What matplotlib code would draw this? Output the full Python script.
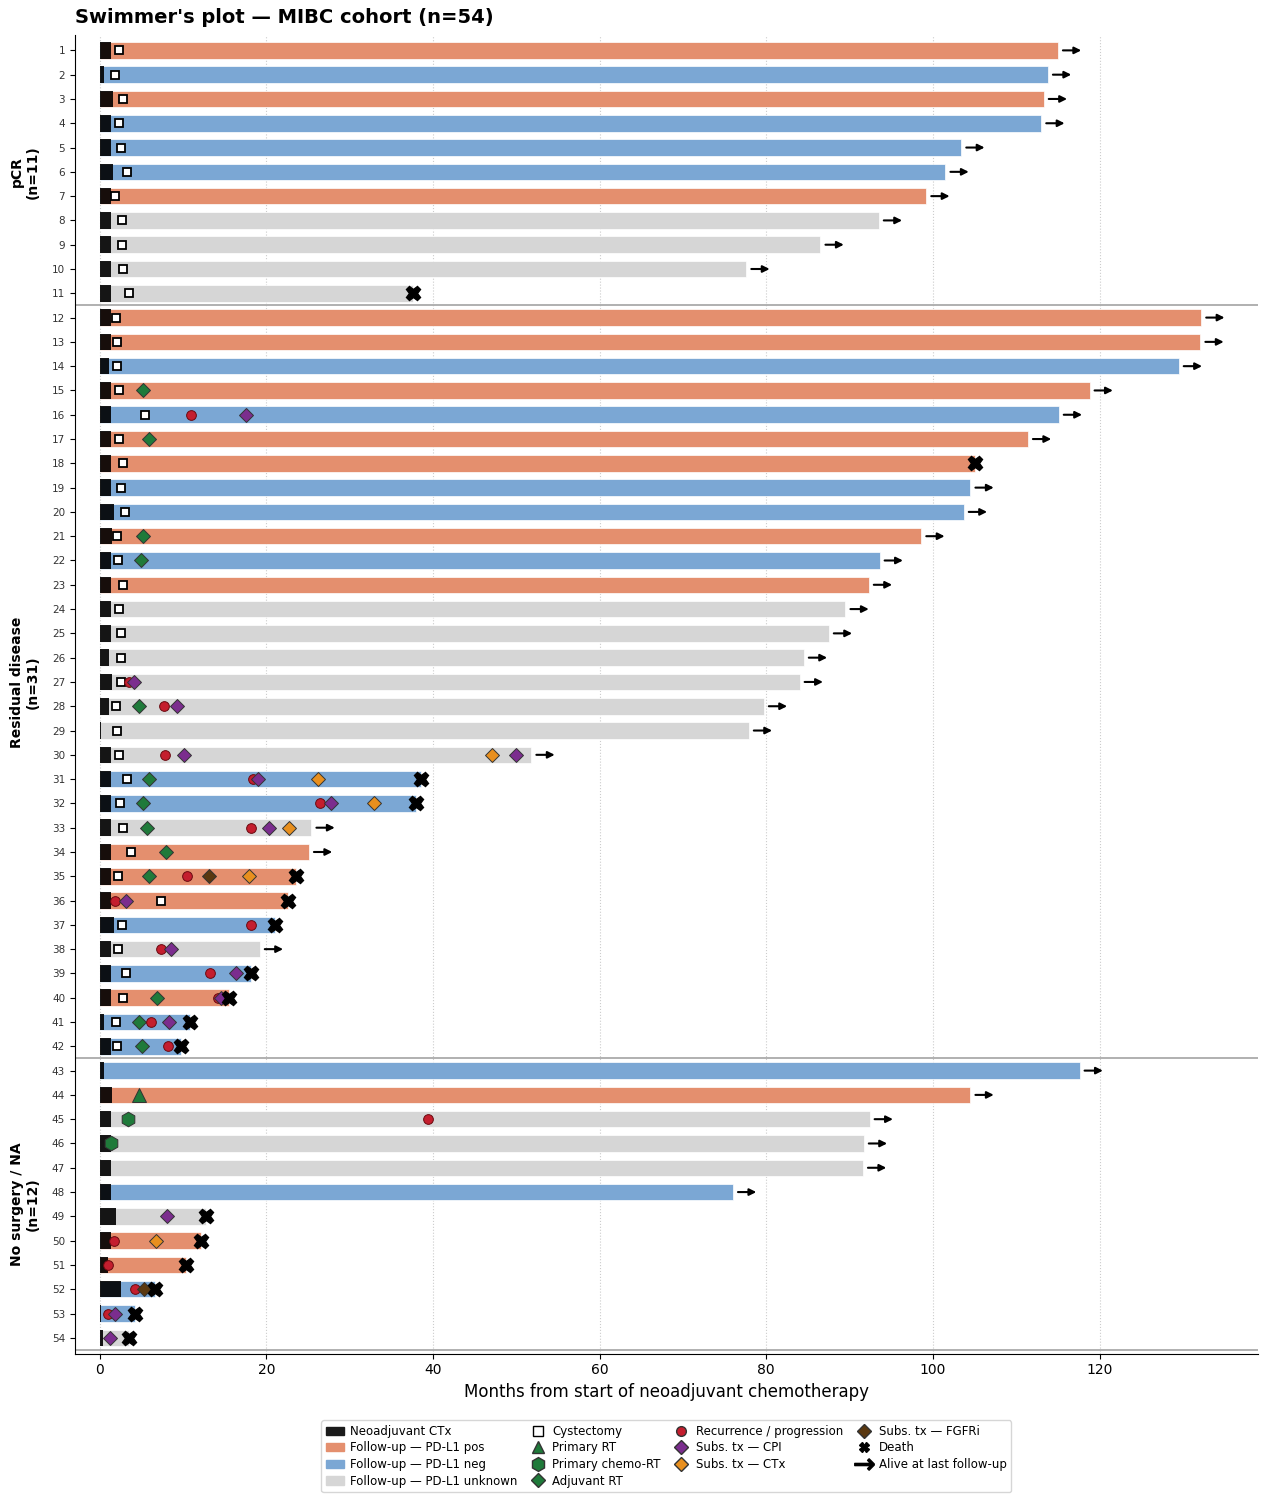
import matplotlib
matplotlib.use("Agg")
import matplotlib.pyplot as plt
from matplotlib.patches import Patch
from matplotlib.lines import Line2D
import matplotlib.transforms as mtransforms

# per-patient data (patients 1..54, top to bottom)
neo_end = [1.4, 0.5, 1.6, 1.3, 1.4, 1.6, 1.3, 1.4, 1.4, 1.4, 1.4,
           1.35, 1.35, 1.05, 1.35, 1.4, 1.35, 1.4, 1.4, 1.75, 1.45, 1.4, 1.4, 1.4, 1.4, 1.05,
           1.45, 1.05, 0.1, 1.3, 1.4, 1.4, 1.4, 1.4, 1.4, 1.35, 1.65, 1.35, 1.35, 1.35, 0.45, 1.35,
           0.45, 1.5, 1.35, 1.35, 1.35, 1.3, 2.0, 1.3, 0.95, 2.5, 0.1, 0.35]
fu_end = [115.0, 113.8, 113.3, 113.0, 103.4, 101.5, 99.2, 93.5, 86.5, 77.6, 37.6,
          132.2, 132.1, 129.5, 118.8, 115.1, 111.4, 105.0, 104.5, 103.7, 98.6, 93.6, 92.3,
          89.5, 87.5, 84.5, 84.0, 79.7, 77.9, 51.8, 38.5, 38.0, 25.4, 25.1, 23.6, 22.6, 21.0,
          19.2, 18.1, 15.5, 10.8, 9.8,
          117.6, 104.5, 92.4, 91.7, 91.6, 76.0, 12.8, 12.2, 10.4, 6.6, 4.2, 3.5]
pdl1 = ['pos', 'neg', 'pos', 'neg', 'neg', 'neg', 'pos', 'unk', 'unk', 'unk', 'unk',
        'pos', 'pos', 'neg', 'pos', 'neg', 'pos', 'pos', 'neg', 'neg', 'pos', 'neg', 'pos',
        'unk', 'unk', 'unk', 'unk', 'unk', 'unk', 'unk', 'neg', 'neg', 'unk', 'pos', 'pos',
        'pos', 'neg', 'unk', 'neg', 'pos', 'neg', 'neg',
        'neg', 'pos', 'unk', 'unk', 'unk', 'neg', 'unk', 'pos', 'pos', 'neg', 'neg', 'unk']
cyst_t = [2.35, 1.85, 2.8, 2.3, 2.6, 3.25, 1.85, 2.65, 2.65, 2.8, 3.5,
          1.9, 2.1, 2.1, 2.3, 5.45, 2.3, 2.8, 2.55, 3.0, 2.1, 2.15, 2.75, 2.3, 2.5, 2.55,
          2.55, 1.9, 2.1, 2.3, 3.25, 2.4, 2.8, 3.8, 2.2, 7.35, 2.65, 2.2, 3.1, 2.8, 1.9, 2.1]
dead = [11, 18, 31, 32, 35, 36, 37, 39, 40, 41, 42, 49, 50, 51, 52, 53, 54]

# events: (patient, month)
adj_rt = [(15, 5.15), (17, 5.85), (21, 5.15), (22, 5.0), (28, 4.65), (31, 5.85), (32, 5.2),
          (33, 5.7), (34, 7.9), (35, 5.9), (40, 6.9), (41, 4.7), (42, 5.1)]
prim_rt = [(44, 4.7)]
chemo_rt = [(45, 3.35), (46, 1.4)]
recur = [(16, 10.9), (27, 3.5), (28, 7.7), (30, 7.85), (31, 18.4), (32, 26.4), (33, 18.2),
         (35, 10.45), (36, 1.85), (37, 18.1), (38, 7.3), (39, 13.25), (40, 14.2), (41, 6.2),
         (42, 8.2), (45, 39.4), (50, 1.7), (51, 1.0), (52, 4.2), (53, 0.95)]
cpi = [(16, 17.6), (27, 4.1), (28, 9.25), (30, 10.1), (30, 50.0), (31, 19.0), (32, 27.7),
       (33, 20.3), (36, 3.2), (38, 8.5), (39, 16.4), (40, 14.6), (41, 8.35), (49, 8.1),
       (53, 1.85), (54, 1.2)]
ctx = [(30, 47.05), (31, 26.2), (32, 32.9), (33, 22.7), (35, 17.9), (50, 6.7)]
fgfr = [(35, 13.1), (52, 5.3)]

groups = ['pCR\n(n=11)', 'Residual disease\n(n=31)', 'No surgery / NA\n(n=12)']
group_bounds = [(1, 11), (12, 42), (43, 54)]

col_fu = {'pos': '#E48F6E', 'neg': '#7BA7D4', 'unk': '#D6D6D6'}
c_rec, c_cpi, c_ctx, c_fgf, c_grn = '#C41E2E', '#7B2D8E', '#E88F1E', '#5A3810', '#1F7A3A'

fig = plt.figure(figsize=(12.68, 15.04), dpi=100)
ax = fig.add_axes([0.059, 0.100, 0.933, 0.877])

n = len(fu_end)
rows = list(range(1, n + 1))
bh = 0.68
ax.barh(rows, fu_end, height=bh, color=[col_fu[p] for p in pdl1],
        edgecolor='white', linewidth=0.5, zorder=2)
ax.barh(rows, neo_end, height=bh, color='black', alpha=0.9, linewidth=0, zorder=3)

ax.plot(cyst_t, rows[:len(cyst_t)], 's', ms=5.8, mfc='white', mec='black', mew=1.3,
        ls='none', zorder=5)


def events(lst, marker, color, ms, mec='#333333'):
    ax.plot([t for _, t in lst], [p for p, _ in lst], marker, ms=ms, mfc=color, mec=mec,
            mew=0.7, ls='none', zorder=6)


events(adj_rt, 'D', c_grn, 7.2)
events(prim_rt, '^', c_grn, 9.5)
events(chemo_rt, 'h', c_grn, 10.5)
events(recur, 'o', c_rec, 7, mec='#6a0a10')
events(cpi, 'D', c_cpi, 7.2)
events(ctx, 'D', c_ctx, 7.2)
events(fgfr, 'D', c_fgf, 7.2)

ax.plot([fu_end[p - 1] for p in dead], dead, 'X', ms=10.5, color='black', mec='black',
        ls='none', zorder=7)
for p in rows:
    if p not in dead:
        e = fu_end[p - 1]
        ax.annotate('', xy=(e + 2.8, p), xytext=(e + 0.6, p),
                    arrowprops=dict(arrowstyle='-|>', color='black', lw=1.5,
                                    mutation_scale=10, shrinkA=0, shrinkB=0), zorder=7)

for b in [11.5, 42.5, 54.5]:
    ax.axhline(b, color='#aaaaaa', lw=1.3, zorder=1)

ax.set_ylim(54.65, 0.35)
ax.set_xlim(-3, 139)
ax.set_yticks(rows)
ax.set_yticklabels([str(r) for r in rows], fontsize=7.5, color='#333333')
ax.set_xticks(range(0, 121, 20))
ax.tick_params(axis='x', labelsize=10)
ax.grid(axis='x', ls=':', color='#cccccc', lw=0.8, zorder=0)
ax.set_axisbelow(True)
ax.spines['top'].set_visible(False)
ax.spines['right'].set_visible(False)
ax.set_xlabel('Months from start of neoadjuvant chemotherapy', fontsize=12)
ax.set_title("Swimmer's plot \u2014 MIBC cohort (n=54)", fontsize=14, fontweight='bold',
             loc='left', pad=8)

trans = mtransforms.blended_transform_factory(ax.transAxes, ax.transData)
for g, (a, b) in zip(groups, group_bounds):
    ax.text(-0.042, (a + b) / 2, g, transform=trans, rotation=90, ha='center', va='center',
            fontsize=10, fontweight='bold')

handles = [
    Patch(color='#1a1a1a', label='Neoadjuvant CTx'),
    Patch(color=col_fu['pos'], label='Follow-up \u2014 PD-L1 pos'),
    Patch(color=col_fu['neg'], label='Follow-up \u2014 PD-L1 neg'),
    Patch(color=col_fu['unk'], label='Follow-up \u2014 PD-L1 unknown'),
    Line2D([], [], marker='s', ms=7, mfc='white', mec='black', ls='none', label='Cystectomy'),
    Line2D([], [], marker='^', ms=9, mfc=c_grn, mec='#333333', ls='none', label='Primary RT'),
    Line2D([], [], marker='h', ms=10, mfc=c_grn, mec='#333333', ls='none', label='Primary chemo-RT'),
    Line2D([], [], marker='D', ms=7, mfc=c_grn, mec='#333333', ls='none', label='Adjuvant RT'),
    Line2D([], [], marker='o', ms=7, mfc=c_rec, mec='#333333', ls='none', label='Recurrence / progression'),
    Line2D([], [], marker='D', ms=7, mfc=c_cpi, mec='#333333', ls='none', label='Subs. tx \u2014 CPI'),
    Line2D([], [], marker='D', ms=7, mfc=c_ctx, mec='#333333', ls='none', label='Subs. tx \u2014 CTx'),
    Line2D([], [], marker='D', ms=7, mfc=c_fgf, mec='#333333', ls='none', label='Subs. tx \u2014 FGFRi'),
    Line2D([], [], marker='X', ms=7, color='black', ls='none', label='Death'),
    Line2D([], [], marker=r'$\rightarrow$', ms=14, color='black', ls='none',
           label='Alive at last follow-up'),
]
ax.legend(handles=handles, loc='upper center', bbox_to_anchor=(0.5, -0.046), ncol=4,
          fontsize=8.5, frameon=True, handlelength=1.5, columnspacing=1.0,
          labelspacing=0.3, handletextpad=0.5, borderpad=0.4)

fig.savefig('out.png', dpi=100)
